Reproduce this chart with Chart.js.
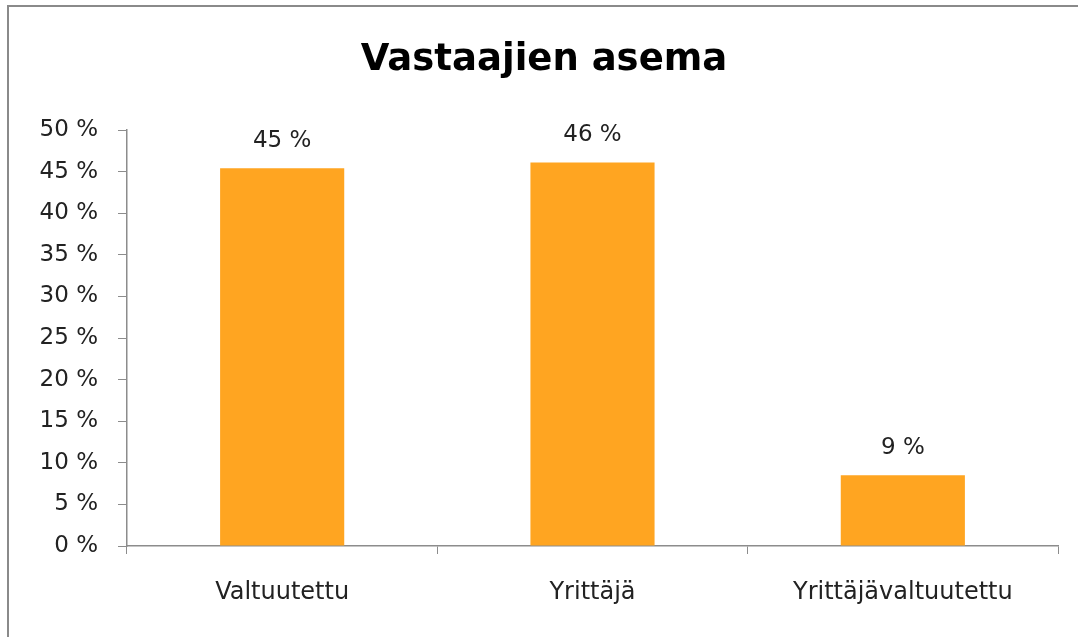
<!DOCTYPE html>
<html>
<head>
<meta charset="utf-8">
<script src="https://cdn.jsdelivr.net/npm/chart.js@4"></script>
<style>
  body { margin: 0; background: #fff; overflow: hidden; }
  #wrap { width: 1078px; height: 637px; }
</style>
</head>
<body>
<div id="wrap"><canvas id="asemaChart"></canvas></div>
<script>
// data
const categories = ['Valtuutettu', 'Yrittäjä', 'Yrittäjävaltuutettu'];
const shares = [45.4, 46.1, 8.5];
const yTicks = [0, 5, 10, 15, 20, 25, 30, 35, 40, 45, 50];
const chartTitle = 'Vastaajien asema';

const FONT = "'DejaVu Sans', sans-serif";
const TEXT = '#222';
const AXIS = '#8c8c8c';

// grey frame on the left and top edge, plus the title
const framePlugin = {
    id: 'frame',
    beforeDraw(chart) {
        const ctx = chart.ctx;
        ctx.save();
        ctx.strokeStyle = '#8a8a8a';
        ctx.lineWidth = 2;
        ctx.beginPath();
        ctx.moveTo(8, 640);
        ctx.lineTo(8, 6);
        ctx.lineTo(1090, 6);
        ctx.stroke();

        ctx.font = 'bold 37px ' + FONT;
        ctx.fillStyle = '#000';
        ctx.textAlign = 'center';
        ctx.textBaseline = 'alphabetic';
        ctx.fillText(chartTitle, 544, 70);
        ctx.restore();
    }
};

// percent labels above the bars
const valueLabels = {
    id: 'valueLabels',
    afterDatasetsDraw(chart) {
        const ctx = chart.ctx;
        const meta = chart.getDatasetMeta(0);
        ctx.save();
        ctx.font = '23px ' + FONT;
        ctx.fillStyle = TEXT;
        ctx.textAlign = 'center';
        ctx.textBaseline = 'alphabetic';
        meta.data.forEach((bar, i) => {
            ctx.fillText(Math.round(shares[i]) + ' %', bar.x, bar.y - 21);
        });
        ctx.restore();
    }
};

function createChart() {
    const ctx = document.getElementById('asemaChart').getContext('2d');
    new Chart(ctx, {
        type: 'bar',
        data: {
            labels: categories,
            datasets: [{
                label: chartTitle,
                data: shares,
                backgroundColor: '#ffa521',
                borderWidth: 0,
                categoryPercentage: 1,
                barPercentage: 0.4
            }]
        },
        options: {
            responsive: true,
            maintainAspectRatio: false,
            animation: false,
            layout: { padding: { left: 0, right: 20, top: 130, bottom: 0 } },
            plugins: {
                legend: { display: false },
                tooltip: { enabled: false },
                title: { display: false }
            },
            scales: {
                x: {
                    offset: true,
                    grid: {
                        offset: true,
                        drawOnChartArea: false,
                        color: AXIS,
                        tickLength: 8
                    },
                    border: { color: AXIS, width: 1.5 },
                    ticks: {
                        color: TEXT,
                        font: { family: FONT, size: 24 },
                        padding: 24,
                        maxRotation: 0
                    },
                    afterFit(scale) { scale.height = 91; }
                },
                y: {
                    min: 0,
                    max: 50,
                    afterBuildTicks(scale) {
                        scale.ticks = yTicks.map(v => ({ value: v }));
                    },
                    grid: {
                        drawOnChartArea: false,
                        color: AXIS,
                        tickLength: 9
                    },
                    border: { color: AXIS, width: 1.5 },
                    ticks: {
                        color: TEXT,
                        font: { family: FONT, size: 23 },
                        padding: 20,
                        callback: v => v + ' %'
                    },
                    afterFit(scale) { scale.width = 127; }
                }
            }
        },
        plugins: [framePlugin, valueLabels]
    });
}

createChart();
</script>
</body>
</html>
